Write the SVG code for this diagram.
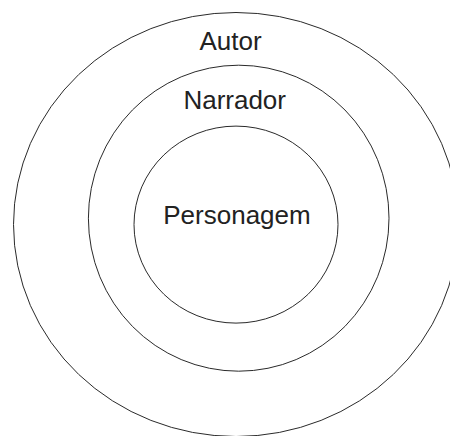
<svg xmlns="http://www.w3.org/2000/svg" width="450" height="436" viewBox="0 0 450 436">
<style>
.ring{fill:none;stroke:#2a2a2a;stroke-width:1}
.lbl{font-family:"Liberation Sans",Arial,sans-serif;font-size:26px;fill:#222;text-anchor:middle}
</style>
<rect width="450" height="436" fill="#fff"/>
<g id="autor">
<ellipse class="ring" cx="236" cy="224.5" rx="222.5" ry="212"/>
<text class="lbl" x="230.5" y="50">Autor</text>
</g>
<g id="narrador">
<ellipse class="ring" cx="238.7" cy="218.2" rx="150.3" ry="153"/>
<text class="lbl" x="234.7" y="109">Narrador</text>
</g>
<g id="personagem">
<ellipse class="ring" cx="236" cy="224.6" rx="102" ry="98.5"/>
<text class="lbl" x="237" y="224">Personagem</text>
</g>
<g id="connectors"/>
</svg>
